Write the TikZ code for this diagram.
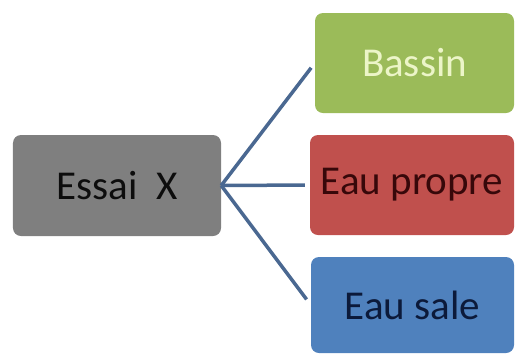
\documentclass[tikz,border=0pt]{standalone}
\usepackage{fontspec}
\setmainfont{Carlito}
\definecolor{essaigray}{HTML}{7F7F7F}
\definecolor{bassingreen}{HTML}{9BBB59}
\definecolor{propred}{HTML}{C0504D}
\definecolor{saleblue}{HTML}{4F81BD}
\definecolor{linkblue}{HTML}{4A6891}
\tikzset{box/.style={rounded corners=8bp,inner sep=0pt,
  font=\fontsize{41bp}{48bp}\selectfont},
  link/.style={linkblue,line width=3.5bp}}
\begin{document}
\begin{tikzpicture}[x=1bp,y=-1bp]
\useasboundingbox (0,0) rectangle (515,354);
\node [box,fill=essaigray,minimum width=208bp,minimum height=101bp,text=black!95] (essai) at (117,185.5) {Essai~~X};
\node [box,fill=bassingreen,minimum width=199bp,minimum height=100bp,text={rgb,255:red,236;green,245;blue,200}] (bassin) at (414.5,63) {Bassin};
\node [box,fill=propred,minimum width=204bp,minimum height=100bp,text={rgb,255:red,55;green,8;blue,10}] (propre) at (412,185) {Eau propre};
\node [box,fill=saleblue,minimum width=203bp,minimum height=96bp,text={rgb,255:red,12;green,26;blue,58}] (sale) at (412.5,305) {Eau sale};

\draw [link,shorten >=6bp] (essai.east)--(bassin.west);
\draw [link,shorten >=5bp] (essai.east)--(propre.west);
\draw [link,shorten >=7bp] (essai.east)--(sale.west);
\end{tikzpicture}
\end{document}
